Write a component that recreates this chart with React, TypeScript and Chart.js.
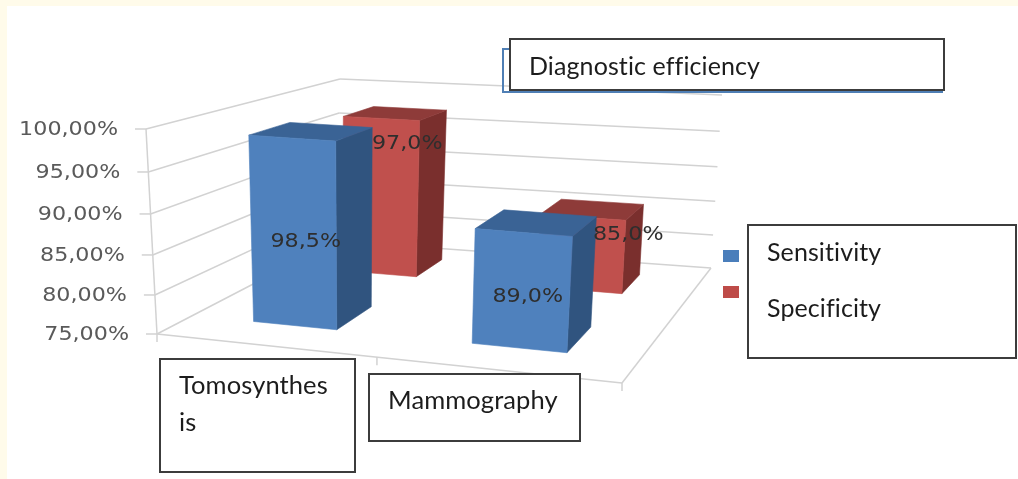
import React, { useEffect, useRef } from "react";
import { Chart, registerables } from "chart.js";

Chart.register(...registerables);

const categories: string[][] = [["Tomosynthes", "is"], ["Mammography"]];
const sensitivity = [98.5, 89.0];
const specificity = [97.0, 85.0];
const seriesNames = ["Sensitivity", "Specificity"];
const valueLabels = [["98,5%", "89,0%"], ["97,0%", "85,0%"]];
const titleText = "Diagnostic efficiency";
const axisMin = 75;
const axisMax = 100;
const axisStep = 5;

type Pt = [number, number];
// Corners of the 3D box: [u][v][w], u = across, v = up, w = depth
const CUBE: Record<string, Pt> = {
  "000": [157, 334], "100": [622, 383], "001": [336, 241], "101": [711, 268],
  "010": [146, 129], "110": [636, 164], "011": [340, 79], "111": [722, 95],
};
const project = (u: number, v: number, w: number): Pt => {
  const out: Pt = [0, 0];
  for (const a of [0, 1]) for (const b of [0, 1]) for (const c of [0, 1]) {
    const k = (a ? u : 1 - u) * (b ? v : 1 - v) * (c ? w : 1 - w);
    const p = CUBE[`${a}${b}${c}`];
    out[0] += k * p[0];
    out[1] += k * p[1];
  }
  return out;
};
// the wall grid bunches slightly towards the floor, as in a perspective view
const wallV = (v: number) => v - 0.06 * v * (1 - v);

const GRID = "#d2d2d2";
const LABEL_FONT = "19.5px 'DejaVu Sans'";
const BOX_FONT = "25.5px Lato";
const TITLE_FONT = "25px Lato";
const STRETCH = 1.14;
const GROUP_SHIFT = [-0.021, -0.019];
const WIDTH_SCALE = [0.93, 1.06];
const BOUNDARY_U = 0.473;
const DEPTHS: Pt[] = [[0.2, 0.43], [0.73, 0.9]];
const FACES = [
  { front: "#4f81bd", top: "#3a6395", side: "#30547f", legend: "#4a7ebb" },
  { front: "#c0504d", top: "#8e3b39", side: "#7a2f2d", legend: "#be4b48" },
];
const LABEL_NUDGE: Pt[][] = [[[12, 10], [6, 7]], [[27, -52], [47, -19]]];

const poly = (ctx: CanvasRenderingContext2D, pts: Pt[], fill: string) => {
  ctx.beginPath();
  pts.forEach((p, i) => (i ? ctx.lineTo(p[0], p[1]) : ctx.moveTo(p[0], p[1])));
  ctx.closePath();
  ctx.fillStyle = fill;
  ctx.strokeStyle = fill;
  ctx.lineWidth = 0.6;
  ctx.fill();
  ctx.stroke();
};
const seg = (ctx: CanvasRenderingContext2D, a: Pt, b: Pt) => {
  ctx.beginPath();
  ctx.moveTo(a[0], a[1]);
  ctx.lineTo(b[0], b[1]);
  ctx.stroke();
};
const wideText = (ctx: CanvasRenderingContext2D, s: string, x: number, y: number, align: "center" | "right", color: string) => {
  ctx.save();
  ctx.font = LABEL_FONT;
  ctx.fillStyle = color;
  ctx.textAlign = align;
  ctx.textBaseline = "middle";
  ctx.translate(x, y);
  ctx.scale(STRETCH, 1);
  ctx.fillText(s, 0, 0);
  ctx.restore();
};
const box = (ctx: CanvasRenderingContext2D, x0: number, y0: number, x1: number, y1: number, lines: [string, number, number][], font = BOX_FONT) => {
  ctx.fillStyle = "#ffffff";
  ctx.fillRect(x0, y0, x1 - x0, y1 - y0);
  ctx.strokeStyle = "#3c3c3c";
  ctx.lineWidth = 2;
  ctx.strokeRect(x0, y0, x1 - x0, y1 - y0);
  ctx.fillStyle = "#1c1c1c";
  ctx.font = font;
  (ctx as any).letterSpacing = "0.1px";
  ctx.textAlign = "left";
  ctx.textBaseline = "alphabetic";
  lines.forEach(([s, x, y]) => ctx.fillText(s, x, y));
  (ctx as any).letterSpacing = "0px";
};

const scene3d = {
  id: "scene3d",
  beforeDraw(chart: any) {
    const ctx: CanvasRenderingContext2D = chart.ctx;
    ctx.save();
    ctx.fillStyle = "#ffffff";
    ctx.fillRect(0, 0, chart.width, chart.height);
    ctx.fillStyle = "#fffbea";
    ctx.fillRect(0, 0, chart.width, 6);
    ctx.fillRect(0, 0, 7, chart.height);
    ctx.restore();
  },
  beforeDatasetsDraw(chart: any) {
    const ctx: CanvasRenderingContext2D = chart.ctx;
    const { chartArea: area, scales } = chart;
    const yScale = scales.y;
    const toV = (px: number) => (area.bottom - px) / (area.bottom - area.top);
    const toU = (px: number) => (px - area.left) / (area.right - area.left);

    ctx.save();
    // walls and floor
    yScale.ticks.forEach((t: any) => {
      const v = wallV(toV(yScale.getPixelForValue(t.value)));
      const front = project(0, v, 0);
      const back = project(0, v, 1);
      const right = project(1, v, 1);
      ctx.strokeStyle = GRID;
      ctx.lineWidth = 1.5;
      seg(ctx, front, back);
      seg(ctx, back, right);
      seg(ctx, [front[0] - 11, front[1]], front);
      wideText(ctx, t.label, front[0] - 28, front[1] + 1, "right", "#5a5a5a");
    });
    seg(ctx, project(0, 0, 0), project(0, 1, 0));
    seg(ctx, project(0, 0, 0), project(1, 0, 0));
    seg(ctx, project(1, 0, 0), project(1, 0, 1));
    [0, BOUNDARY_U, 1].forEach((u) => {
      const p = project(u, 0, 0);
      seg(ctx, p, [p[0], p[1] + 8]);
    });

    // bars, back row first
    const labels: [string, number, number][] = [];
    [1, 0].forEach((ds) => {
      const meta = chart.getDatasetMeta(ds);
      const [w0, w1] = DEPTHS[ds];
      const c = FACES[ds];
      meta.data.forEach((bar: any, i: number) => {
        const half = (bar.width / 2) * WIDTH_SCALE[i];
        const u0 = toU(bar.x - half) + GROUP_SHIFT[i];
        const u1 = toU(bar.x + half) + GROUP_SHIFT[i];
        const v = toV(bar.y);
        poly(ctx, [project(u1, 0, w0), project(u1, 0, w1), project(u1, v, w1), project(u1, v, w0)], c.side);
        poly(ctx, [project(u0, v, w0), project(u1, v, w0), project(u1, v, w1), project(u0, v, w1)], c.top);
        poly(ctx, [project(u0, 0, w0), project(u1, 0, w0), project(u1, v, w0), project(u0, v, w0)], c.front);
        const mid = project((u0 + u1) / 2, v / 2, w0);
        const n = LABEL_NUDGE[ds][i];
        labels.push([valueLabels[ds][i], mid[0] + n[0], mid[1] + n[1]]);
      });
    });
    labels.forEach(([s, x, y]) => wideText(ctx, s, x, y, "center", "#2e2e2e"));

    // title: frame behind, text box in front
    ctx.strokeStyle = "#4f7fb5";
    ctx.lineWidth = 2;
    ctx.strokeRect(503, 49, 439, 43);
    box(ctx, 510, 39, 944, 90, [[titleText, 529, 75]], TITLE_FONT);

    // category text boxes
    const cats: string[][] = chart.data.labels;
    box(ctx, 160, 359, 355, 472, cats[0].map((s, i): [string, number, number] => [s, 179, 394 + i * 37]));
    box(ctx, 369, 374, 580, 441, cats[1].map((s, i): [string, number, number] => [s, 388, 409 + i * 37]));

    // legend
    box(ctx, 748, 225, 1016, 358, chart.data.datasets.map((d: any, i: number): [string, number, number] => [d.label, 767, 261 + i * 56]), TITLE_FONT);
    FACES.forEach((c, i) => {
      ctx.fillStyle = c.legend;
      ctx.fillRect(723, 250 + i * 36, 16, 12);
    });
    ctx.restore();
    return false;
  },
};

export default function App() {
  const ref = useRef<HTMLCanvasElement>(null);
  useEffect(() => {
    const chart = new Chart(ref.current as HTMLCanvasElement, {
      type: "bar",
      data: {
        labels: categories as any,
        datasets: [
          { label: seriesNames[0], data: sensitivity, backgroundColor: FACES[0].front },
          { label: seriesNames[1], data: specificity, backgroundColor: FACES[1].front },
        ],
      },
      options: {
        responsive: false,
        animation: false,
        devicePixelRatio: 1,
        layout: { padding: { left: 157, right: 396, top: 129, bottom: 145 } },
        datasets: { bar: { grouped: false, categoryPercentage: 1, barPercentage: 0.4 } },
        plugins: { legend: { display: false }, title: { display: false }, tooltip: { enabled: false } },
        scales: {
          x: { display: false },
          y: {
            display: false,
            min: axisMin,
            max: axisMax,
            ticks: {
              stepSize: axisStep,
              callback: (v: any) => `${Number(v).toFixed(2).replace(".", ",")}%`,
            },
          },
        },
      } as any,
      plugins: [scene3d],
    });
    return () => chart.destroy();
  }, []);
  return (
    <div style={{ position: "absolute", left: 0, top: 0, width: 1018, height: 479 }}>
      <canvas ref={ref} width={1018} height={479} style={{ display: "block", filter: "blur(0.5px)" }} />
    </div>
  );
}
